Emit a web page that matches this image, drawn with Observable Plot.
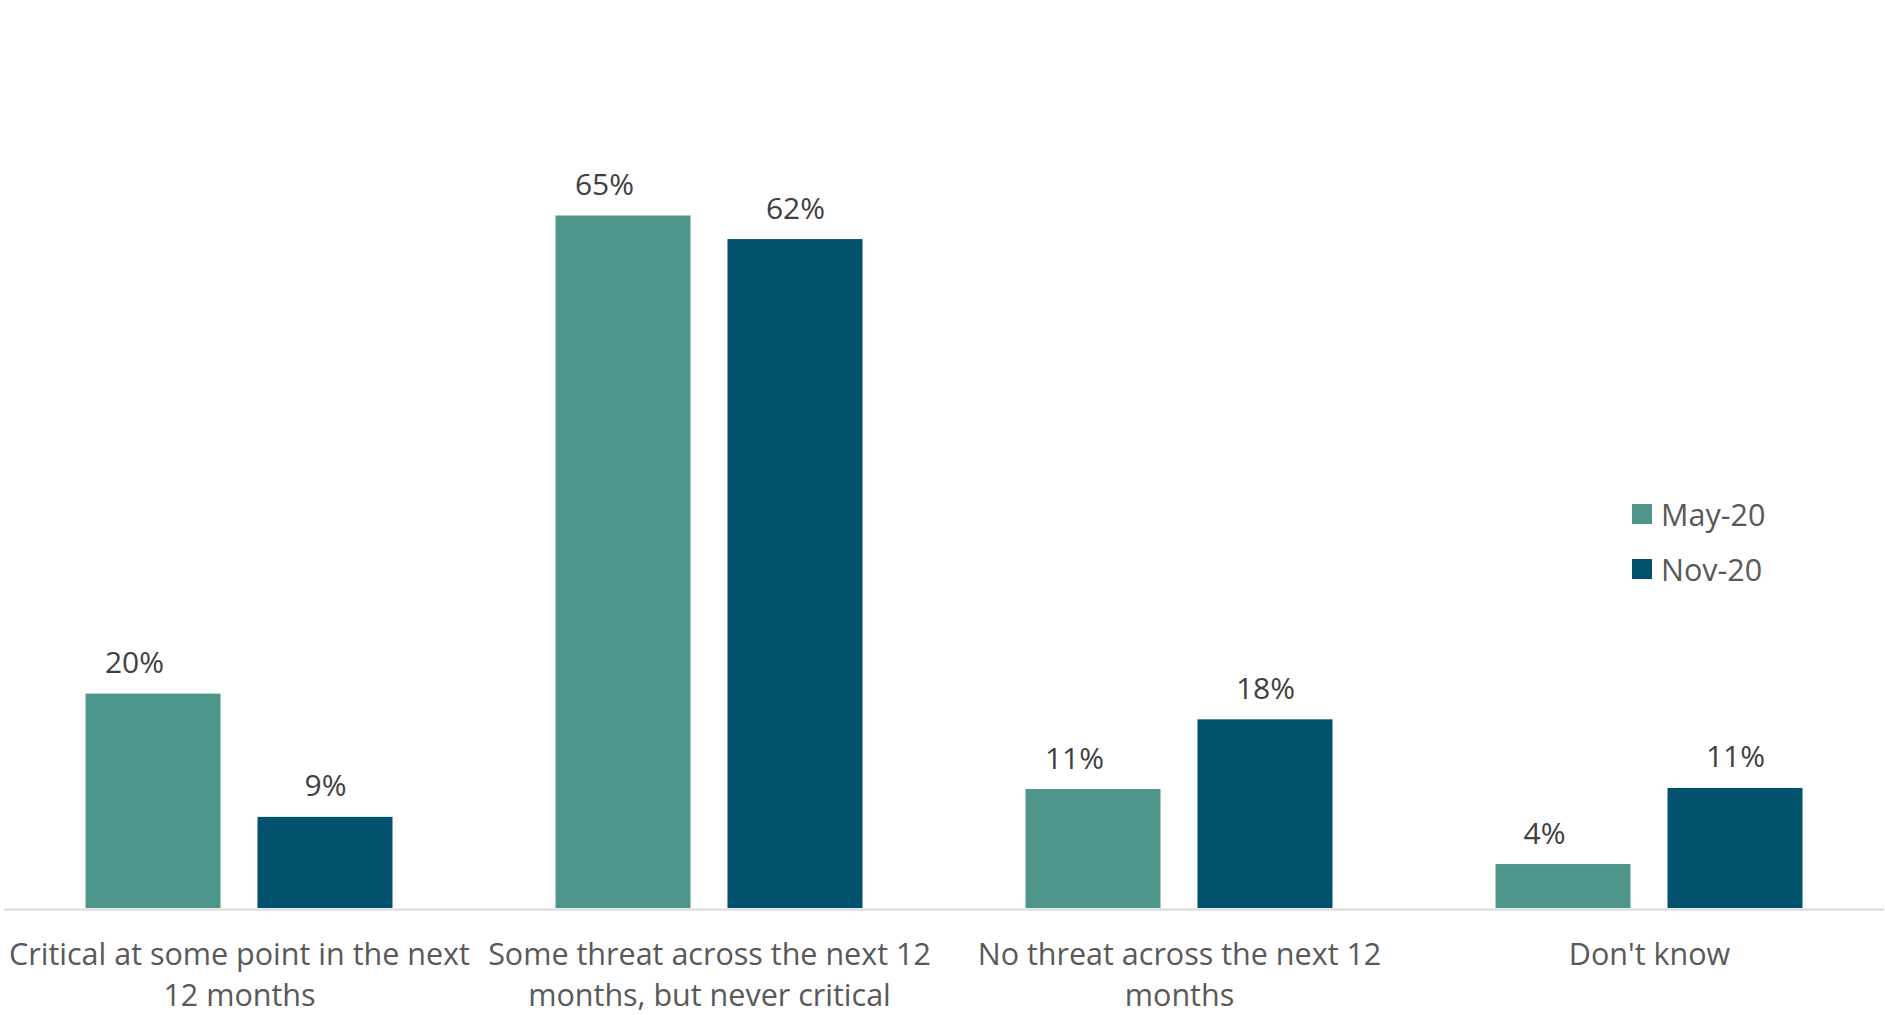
<!DOCTYPE html>
<html><head><meta charset="utf-8">
<script src="https://cdn.jsdelivr.net/npm/d3@7"></script>
<script src="https://cdn.jsdelivr.net/npm/@observablehq/plot@0.6"></script>
<style>
body{margin:0;background:#fff;font-family:"Open Sans",sans-serif;}
#wrap{position:relative;width:1885px;height:1015px;}
#legend{position:absolute;left:1632px;top:486px;z-index:2;}
.item{display:flex;align-items:center;height:55px;font-size:30.5px;color:#595959;}
.sw{width:20px;height:20px;margin-right:9px;}
</style></head><body><div id="wrap"><div id="legend"></div></div>
<script>
const categories = [
  "Critical at some point in the next 12 months",
  "Some threat across the next 12 months, but never critical",
  "No threat across the next 12 months",
  "Don't know"
];
const tickLabels = [
  "Critical at some point in the next\n12 months",
  "Some threat across the next 12\nmonths, but never critical",
  "No threat across the next 12\nmonths",
  "Don't know"
];
const series = ["May-20", "Nov-20"];
const may20 = [20, 64.6, 11.1, 4.1];
const nov20 = [8.5, 62.4, 17.6, 11.2];
const colors = ["#4E9689", "#02516D"];

const data = categories.flatMap((c, i) => [
  {category: c, series: series[0], value: may20[i]},
  {category: c, series: series[1], value: nov20[i]}
]);

const chart = Plot.plot({
  width: 1885, height: 1015,
  marginLeft: 4, marginRight: 1, marginTop: 50.4, marginBottom: 107,
  style: {fontFamily: "Open Sans", background: "#fff"},
  fx: {domain: categories, padding: 0, round: false},
  x: {domain: series, axis: null, paddingInner: 0.215, paddingOuter: 0.474, round: false},
  y: {domain: [0, 80], axis: null},
  color: {domain: series, range: colors},
  marks: [
    Plot.ruleY([0], {stroke: "#d9d9d9", strokeWidth: 2, dy: 1}),
    Plot.barY(data, {fx: "category", x: "series", y: "value", fill: "series"}),
    Plot.text(data.filter(d => d.series === series[0]), {fx: "category", x: "series", y: "value", text: d => Math.round(d.value) + "%", lineAnchor: "bottom", dy: -21, dx: -19, fontSize: 30, fill: "#404040"}),
    Plot.text(data.filter(d => d.series === series[1]), {fx: "category", x: "series", y: "value", text: d => Math.round(d.value) + "%", lineAnchor: "bottom", dy: -21, fontSize: 30, fill: "#404040"}),
    Plot.axisFx({anchor: "bottom", tickSize: 0, tickPadding: 27, fontSize: 30.5, lineHeight: 1.36, tickFormat: d => tickLabels[categories.indexOf(d)], color: "#595959", label: null})
  ]
});
document.getElementById("wrap").appendChild(chart);

const legend = document.getElementById("legend");
series.forEach((s, i) => {
  const item = document.createElement("div");
  item.className = "item";
  const sw = document.createElement("span");
  sw.className = "sw";
  sw.style.background = colors[i];
  const t = document.createElement("span");
  t.textContent = s;
  item.appendChild(sw);
  item.appendChild(t);
  legend.appendChild(item);
});
</script></body></html>
